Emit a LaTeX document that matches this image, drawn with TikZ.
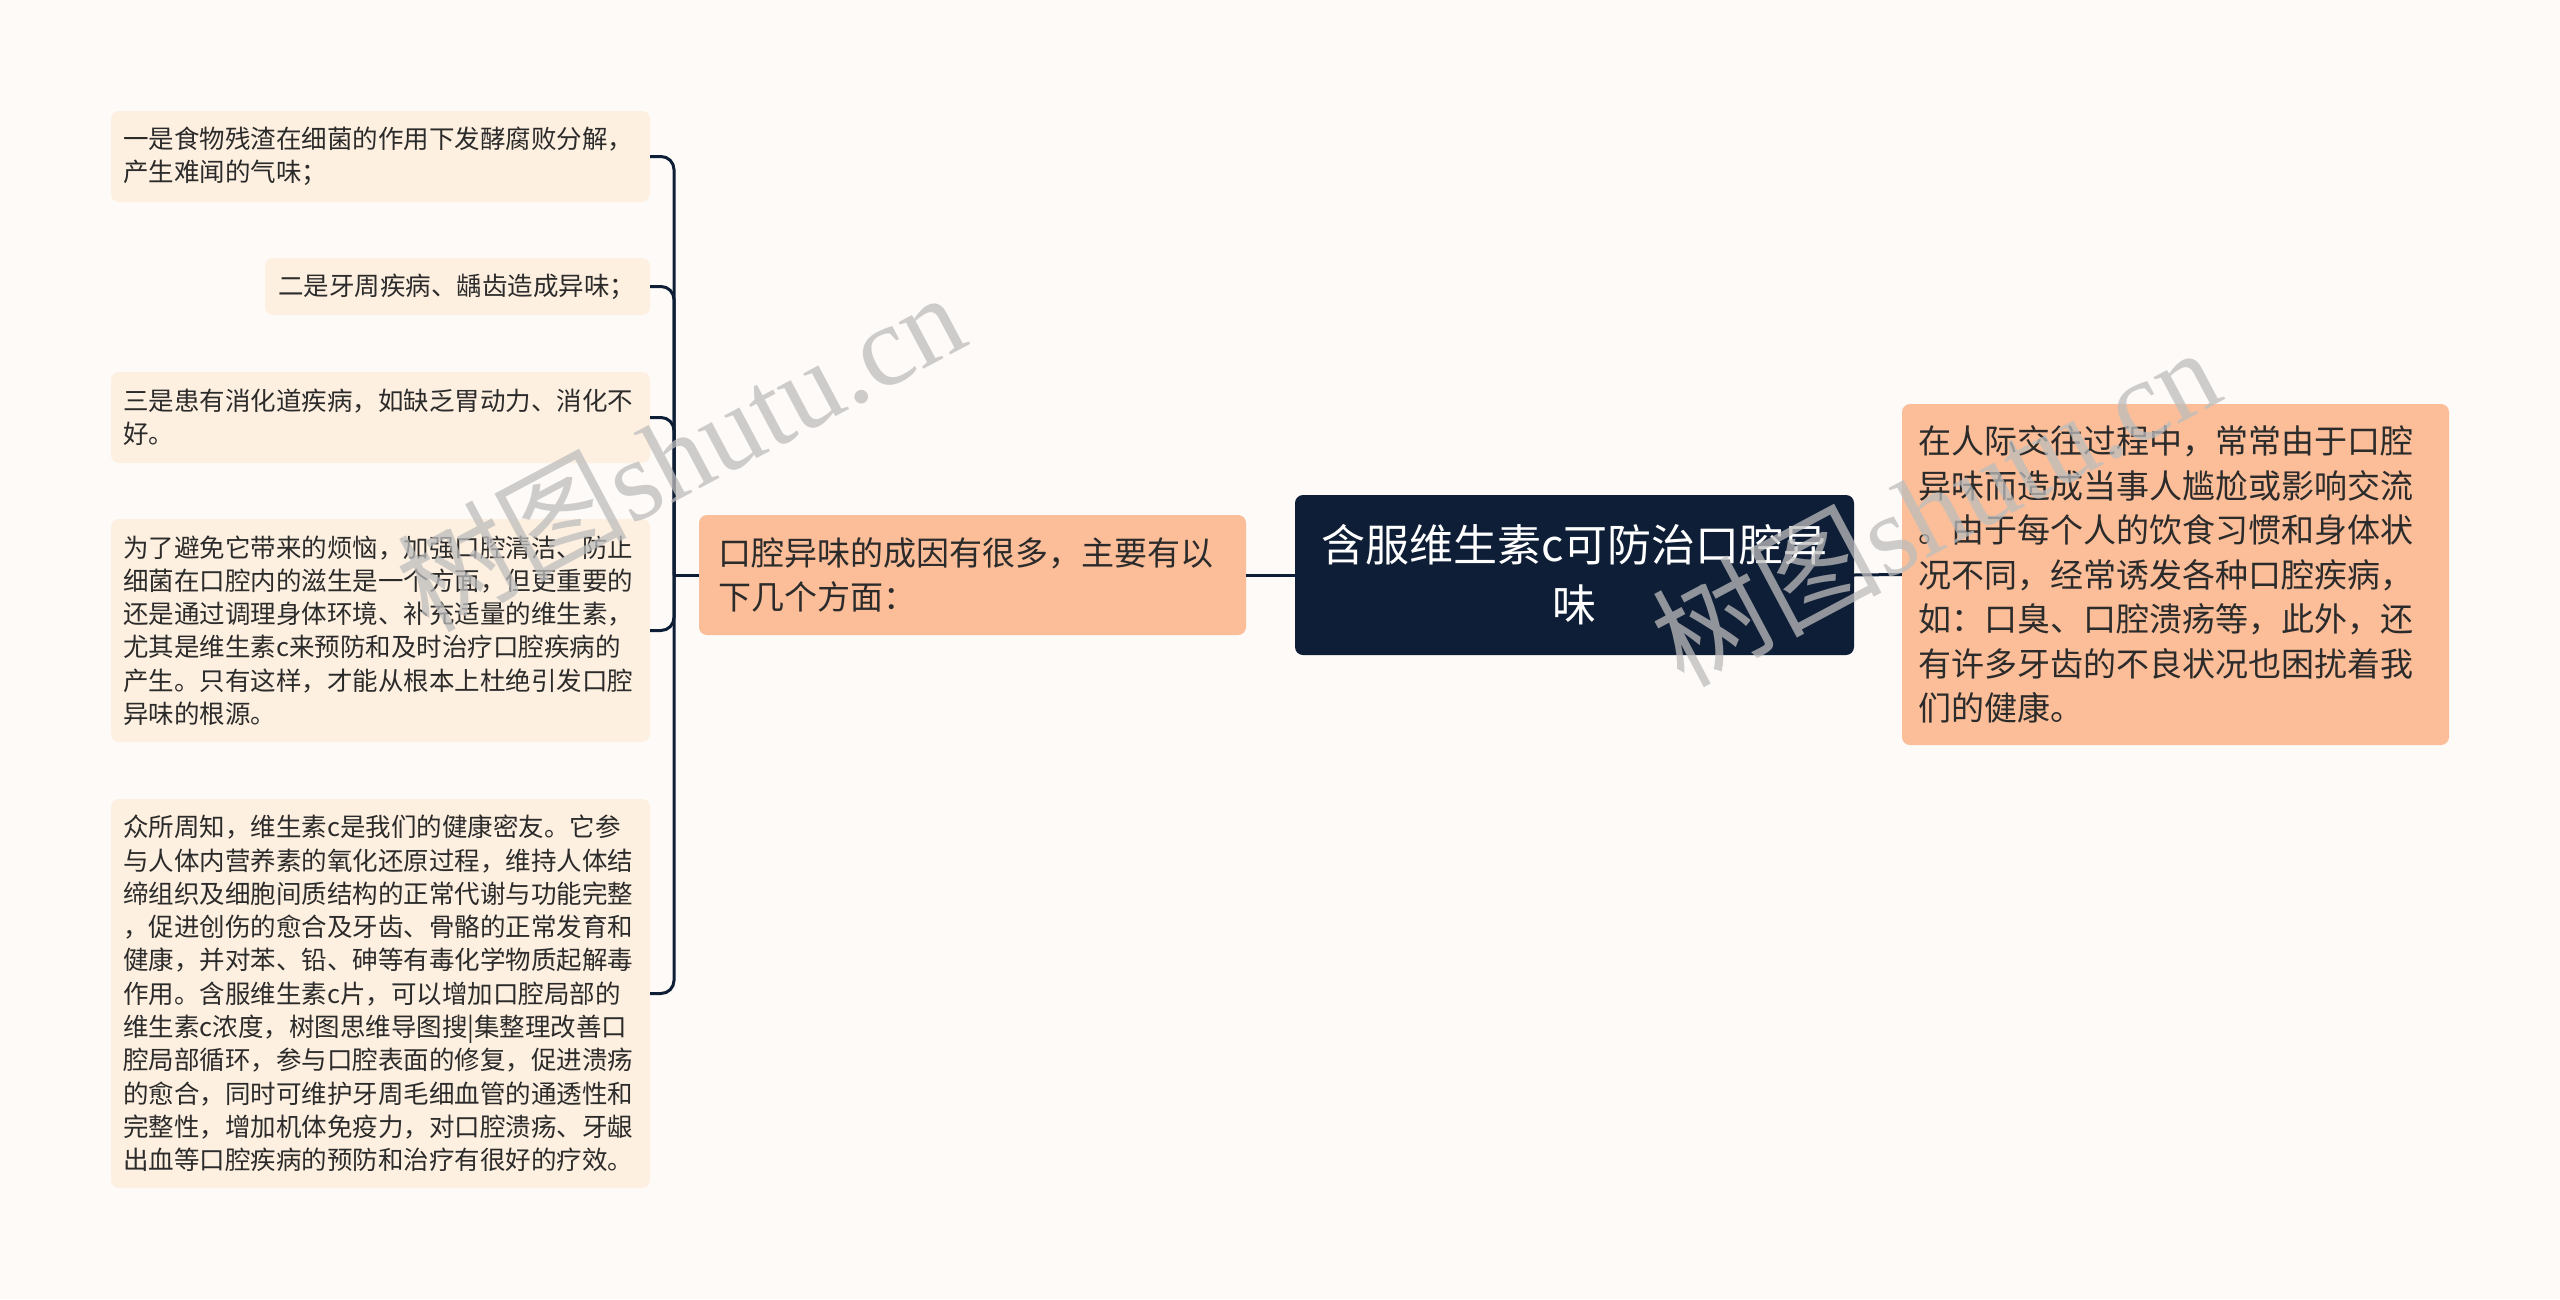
\documentclass[tikz,border=0pt]{standalone}
\usepackage{fontspec}
\setmainfont{Noto Sans CJK SC}
\newfontfamily\cjk{Noto Sans CJK SC}
\newfontfamily\wmfont{Liberation Serif}
\definecolor{bgc}{HTML}{FDFAF8}
\definecolor{leafc}{HTML}{FEF0E0}
\definecolor{salmonc}{HTML}{FBBE99}
\definecolor{navyc}{HTML}{0E1E36}
\definecolor{txtc}{HTML}{2B2B2B}
\definecolor{wmc}{HTML}{BDBDBD}
\tikzset{
  leafbox/.style={fill=leafc, rounded corners=8pt, inner xsep=12pt, inner ysep=0pt,
    align=left, text=txtc, font=\fontsize{25.5}{33.3}\selectfont, text width=515pt},
  midbox/.style={fill=salmonc, rounded corners=8pt, inner ysep=0pt,
    align=left, text=txtc, font=\fontsize{33}{44.5}\selectfont},
  rootbox/.style={fill=navyc, rounded corners=8pt, inner xsep=20pt, inner ysep=0pt,
    align=center, text=white, font=\fontsize{44}{60}\selectfont, text width=519pt,
    minimum height=160pt},
  conn/.style={draw=navyc, line width=3pt},
  wmark/.style={text=wmc, opacity=0.75, font=\fontsize{115}{115}\selectfont, inner sep=0pt}
}
\begin{document}
\begin{tikzpicture}[x=1pt,y=1pt]
\fill[bgc] (0,0) rectangle (2560,-1299);
\useasboundingbox (0,0) rectangle (2560,-1299);

\node[leafbox, minimum height=91pt] (b1) at (380.5,-156.5)
 {一是食物残渣在细菌的作用下发酵腐败分解，\\产生难闻的气味；};
\node[leafbox, minimum height=57pt, text width=359pt, inner xsep=13pt] (b2) at (457.5,-286.5)
 {二是牙周疾病、龋齿造成异味；};
\node[leafbox, minimum height=91pt] (b3) at (380.5,-417.5)
 {三是患有消化道疾病，如缺乏胃动力、消化不\\好。};
\node[leafbox, minimum height=223pt] (b4) at (380.5,-630.5)
 {为了避免它带来的烦恼，加强口腔清洁、防止\\细菌在口腔内的滋生是一个方面，但更重要的\\还是通过调理身体环境、补充适量的维生素，\\尤其是维生素c来预防和及时治疗口腔疾病的\\产生。只有这样，才能从根本上杜绝引发口腔\\异味的根源。};
\node[leafbox, minimum height=389pt] (b5) at (380.5,-993.5)
 {众所周知，维生素c是我们的健康密友。它参\\与人体内营养素的氧化还原过程，维持人体结\\缔组织及细胞间质结构的正常代谢与功能完整\\，促进创伤的愈合及牙齿、骨骼的正常发育和\\健康，并对苯、铅、砷等有毒化学物质起解毒\\作用。含服维生素c片，可以增加口腔局部的\\维生素c浓度，树图思维导图搜|集整理改善口\\腔局部循环，参与口腔表面的修复，促进溃疡\\的愈合，同时可维护牙周毛细血管的通透性和\\完整性，增加机体免疫力，对口腔溃疡、牙龈\\出血等口腔疾病的预防和治疗有很好的疗效。};

\node[midbox, minimum height=120pt, inner xsep=19pt, text width=509pt] (mid) at (972.5,-575)
 {口腔异味的成因有很多，主要有以\\下几个方面：};
\node[rootbox] (root) at (1574.5,-575)
 {含服维生素c可防治口腔异\\味};
\node[midbox, minimum height=341pt, inner xsep=16pt, text width=515pt] (right) at (2175.5,-574.5)
 {在人际交往过程中，常常由于口腔\\异味而造成当事人尴尬或影响交流\\。由于每个人的饮食习惯和身体状\\况不同，经常诱发各种口腔疾病，\\如：口臭、口腔溃疡等，此外，还\\有许多牙齿的不良状况也困扰着我\\们的健康。};

\coordinate (j) at (674,-575);
\draw[conn] (root.west) -- (mid.east);
\draw[conn] (root.east) -- (right.west);
\draw[conn] (mid.west) -- (j);
\foreach \b in {b1,b2,b3,b4,b5}{
  \draw[conn, rounded corners=13pt] (j) |- (\b.east);
}

\node[wmark, rotate=28] (wm1) at (680,-450) {{\cjk 树图}{\wmfont shutu.cn}};
\node[wmark, rotate=28] (wm2) at (1935,-505) {{\cjk 树图}{\wmfont shutu.cn}};
\end{tikzpicture}
\end{document}
